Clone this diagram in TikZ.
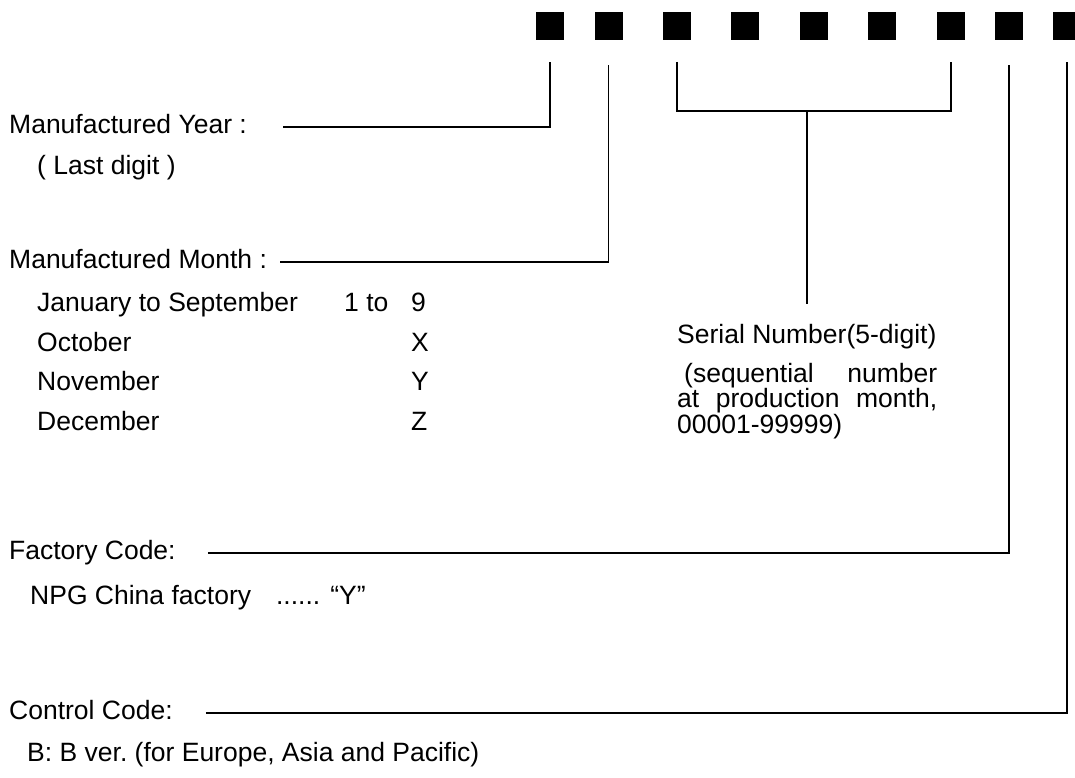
\documentclass[tikz,border=0pt]{standalone}
\usepackage{fontspec}
\setmainfont{Liberation Sans}
\usetikzlibrary{positioning}
\frenchspacing

\begin{document}
\begin{tikzpicture}[
    x=1pt, y=-1pt,
    node distance=14.3pt and 0pt,
    label/.style={anchor=west, inner sep=0pt, text height=19.2pt, text depth=5.5pt,
                  font=\fontsize{26.5}{31}\selectfont},
    sub/.style={label},
    digit/.style={fill=black, minimum size=28pt, inner sep=0pt, outer sep=0pt},
    lead/.style={line width=1.5pt},
  ]
    \useasboundingbox (0,0) rectangle (1075,778);

    % the nine code characters
    \foreach \i/\x in {1/550, 2/608.5, 3/677, 4/745, 5/814, 6/882, 7/951, 8/1009, 9/1067}
      \node[digit] (d\i) at (\x,26) {};

    \node[label] (year) at (9,127) {Manufactured Year :};
    \node[sub] (yearnote) at (37,168) {( Last digit )};

    \node[label] (month) at (9,262) {Manufactured Month :};
    \node[sub] (jan) at (37,305) {January to September};
    \node[sub, below=of jan.south west, anchor=north west] (oct) {October};
    \node[sub, below=of oct.south west, anchor=north west] (nov) {November};
    \node[sub, below=of nov.south west, anchor=north west] (dec) {December};
    \node[sub] (janto) at (344,305) {1 to};
    \node[sub] (v1) at (411,305) {9};
    \node[sub, below=of v1.south west, anchor=north west] (v2) {X};
    \node[sub, below=of v2.south west, anchor=north west] (v3) {Y};
    \node[sub, below=of v3.south west, anchor=north west] (v4) {Z};

    \node[label] (serial) at (677,337) {Serial Number(5-digit)};
    \node[anchor=base west, inner sep=0pt, text width=260pt, align=justify,
          font=\fontsize{26.5}{23.5}\selectfont] (serialnote) at (677,382)
      {\hspace*{7pt}(sequential number\linebreak at production month,\linebreak 00001-99999)};

    \node[label] (factory) at (9,553) {Factory Code:};
    \node[sub] (factorynote) at (30,598) {NPG China factory\hspace{25pt}......\hspace{10pt}“Y”};

    \node[label] (control) at (9,713) {Control Code:};
    \node[sub] (controlnote) at (27,755) {B: B ver. (for Europe, Asia and Pacific)};

    \draw[lead] ([xshift=36pt]year.east) -| ([yshift=-22pt]d1.south);
    \draw[lead] ([xshift=13pt]month.east) -| ([yshift=-25pt]d2.south);
    \draw[lead] ([yshift=-22pt]d3.south) |- ([yshift=-71pt]d7.south) -- ([yshift=-22pt]d7.south);
    \draw[lead] ([yshift=-71pt]d3.south -| serial.north) -- ([yshift=20pt]serial.north);
    \draw[lead] ([xshift=32pt]factory.east) -| ([yshift=-25pt]d8.south);
    \draw[lead] ([xshift=33pt]control.east) -| ([yshift=-22pt]d9.south);
  \end{tikzpicture}
\end{document}
